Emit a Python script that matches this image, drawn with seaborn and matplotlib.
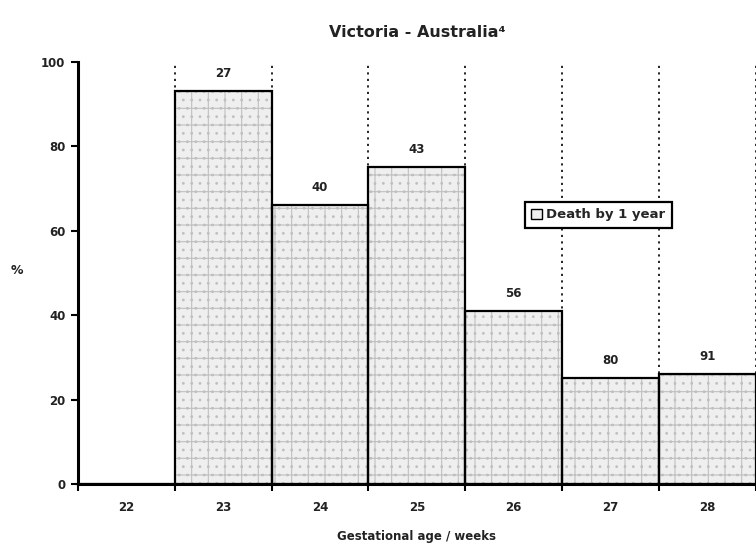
import numpy as np
import pandas as pd
import matplotlib
matplotlib.use('Agg')
import matplotlib.pyplot as plt
import seaborn as sns

# Data
weeks = ['22', '23', '24', '25', '26', '27', '28']
death_pct = [0, 93, 66, 75, 41, 25, 26]
n_labels = ['', '27', '40', '43', '56', '80', '91']

df = pd.DataFrame({'week': weeks, 'pct': death_pct})

sns.set_style('white')
plt.rcParams['font.family'] = ['DejaVu Sans']
plt.rcParams['hatch.color'] = '#c0c0c0'
plt.rcParams['hatch.linewidth'] = 0.8

fig = plt.figure(figsize=(7.56, 5.51), dpi=100)
ax = fig.add_axes([0.103, 0.1216, 0.897, 0.766])
ax.set_axisbelow(True)

# Fill layer with stipple-like hatch
sns.barplot(data=df, x='week', y='pct', order=weeks, color='#efefef',
            width=1.0, edgecolor='#c0c0c0', linewidth=0, ax=ax,
            label='Death by 1 year', zorder=2)
for p in ax.patches:
    p.set_hatch('+..')

# Outline layer
sns.barplot(data=df, x='week', y='pct', order=weeks, fill=False,
            width=1.0, edgecolor='black', linewidth=1.6, ax=ax, zorder=3)

ax.bar_label(ax.containers[1], labels=n_labels, padding=8,
             fontsize=8.5, fontweight='bold', color='#222222')

ax.set_xlim(-0.5, 6.5)
ax.set_ylim(0, 100)
ax.set_yticks([0, 20, 40, 60, 80, 100])
ax.set_xticks(np.arange(len(weeks)))
ax.set_xticklabels(weeks)
ax.set_xticks(np.arange(len(weeks) + 1) - 0.5, minor=True)

ax.tick_params(axis='x', which='major', length=0, pad=12, labelsize=8.5)
ax.tick_params(axis='x', which='minor', length=5, width=1.5, direction='out',
               color='black', bottom=True)
ax.tick_params(axis='y', length=5, width=1.5, direction='out', color='black',
               left=True, labelsize=8.5, pad=4)
for lab in ax.get_xticklabels() + ax.get_yticklabels():
    lab.set_fontweight('bold')
    lab.set_color('#222222')

ax.grid(False)
ax.grid(True, which='minor', axis='x', linestyle=(0, (1.3, 2.6)), color='black',
        linewidth=1.2)

sns.despine(ax=ax, top=True, right=True)
ax.spines['left'].set_linewidth(2.2)
ax.spines['bottom'].set_linewidth(2.2)
ax.spines['left'].set_color('black')
ax.spines['bottom'].set_color('black')

ax.set_xlabel('Gestational age / weeks', fontsize=8.5, fontweight='bold',
              labelpad=12, color='#222222')
ax.set_ylabel('%', fontsize=9, fontweight='bold', rotation=0, color='#222222')
ax.yaxis.set_label_coords(-0.09, 0.49)
ax.set_title('Victoria - Australia\u2074', fontsize=11.5, fontweight='bold',
             pad=18, color='#222222')

handles, labels = ax.get_legend_handles_labels()
leg = ax.legend(handles[:1], labels[:1], loc='lower left',
                bbox_to_anchor=(0.659, 0.607), frameon=True, fancybox=False,
                fontsize=9.5, handlelength=0.8, handleheight=0.8,
                handletextpad=0.3, borderpad=0.5, borderaxespad=0)
leg.get_frame().set_edgecolor('black')
leg.get_frame().set_linewidth(1.6)
leg.get_frame().set_alpha(1)
for h in leg.legend_handles:
    h.set_edgecolor('black')
    h.set_linewidth(1)
    h.set_hatch('')
for t in leg.get_texts():
    t.set_fontweight('bold')
leg.set_zorder(5)

fig.savefig('out.png', dpi=100)
